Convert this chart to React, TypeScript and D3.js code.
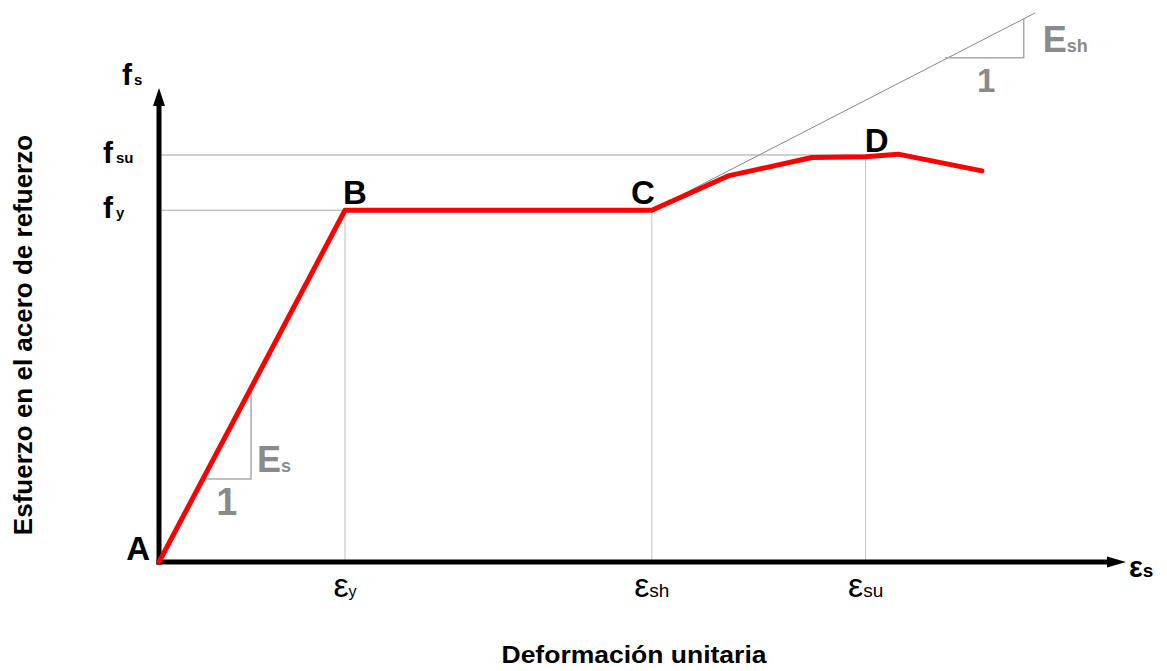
import React from 'react';
import * as d3 from 'd3';

// ---- data ----
const curveStrain = [0, 0.002, 0.0053, 0.00612, 0.00702, 0.0076, 0.00795, 0.00885];
const curveStress = [0, 420, 420, 461, 483, 484, 487, 467];
const pointNames = ['A', 'B', 'C', 'D'];
const pointIndex = [0, 1, 2, 5];
const xTickValues = [0.002, 0.0053, 0.0076];
const xTickSubs = ['y', 'sh', 'su'];
const yTickValues = [420, 486];
const yTickSubs = ['y', 'su'];
const tangentStrain = [0.0053, 0.00942];
const tangentStress = [420, 655.5];
const esTriStrain = [0.00047, 0.00099];
const esTriStress = 99;
const eshTriStrain = [0.00845, 0.0093];
const eshTriStress = 602;
const xTitle = 'Deformación unitaria';
const yTitle = 'Esfuerzo en el acero de refuerzo';

const W = 1167;
const H = 671;

export default function App() {
  const x = d3.scaleLinear().domain([0, 0.0104]).range([159, 1126]);
  const y = d3.scaleLinear().domain([0, 566]).range([562, 88]);
  const pts: [number, number][] = curveStrain.map((s, i) => [s, curveStress[i]]);
  const line = d3
    .line<[number, number]>()
    .x((d) => x(d[0]))
    .y((d) => y(d[1]));

  const x0 = x(0);
  const y0 = y(0);
  const gray = '#aaaaaa';
  const labelGray = '#8a8a8a';
  const font = 'Liberation Sans, Arial, sans-serif';

  // Es triangle
  const esSlope = curveStress[1] / curveStrain[1];
  const esTop = esSlope * esTriStrain[1];
  // Esh triangle
  const tSlope = (tangentStress[1] - tangentStress[0]) / (tangentStrain[1] - tangentStrain[0]);
  const eshTop = tangentStress[0] + tSlope * (eshTriStrain[1] - tangentStrain[0]);

  const dIdx = pointIndex[3];
  const labelOffsets = [
    { dx: -9, dy: -2, anchor: 'end' },
    { dx: -2, dy: -6, anchor: 'start' },
    { dx: 3, dy: -6, anchor: 'end' },
    { dx: -1, dy: -5, anchor: 'start' },
  ];

  return (
    <svg width={W} height={H} style={{ position: 'absolute', left: 0, top: 0, background: '#fff' }} fontFamily={font}>
      {/* reference lines */}
      <line x1={x0} x2={x(curveStrain[1])} y1={y(yTickValues[0])} y2={y(yTickValues[0])} stroke={gray} strokeWidth={1} />
      <line x1={x0} x2={x(curveStrain[dIdx])} y1={y(yTickValues[1])} y2={y(yTickValues[1])} stroke="#a0a0a0" strokeWidth={1} />
      {xTickValues.map((v, i) => (
        <line
          key={'v' + i}
          x1={x(v)}
          x2={x(v)}
          y1={i === 2 ? y(yTickValues[1]) : y(yTickValues[0])}
          y2={y0}
          stroke="#c0c0c0"
          strokeWidth={1}
        />
      ))}
      {/* tangent line */}
      <line
        x1={x(tangentStrain[0])}
        y1={y(tangentStress[0])}
        x2={x(tangentStrain[1])}
        y2={y(tangentStress[1])}
        stroke="#888"
        strokeWidth={1}
      />
      {/* Esh triangle */}
      <polyline
        points={`${x(eshTriStrain[0])},${y(eshTriStress)} ${x(eshTriStrain[1])},${y(eshTriStress)} ${x(eshTriStrain[1])},${y(eshTop)}`}
        fill="none"
        stroke={gray}
        strokeWidth={1.5}
      />
      {/* Es triangle */}
      <polyline
        points={`${x(esTriStrain[0])},${y(esTriStress)} ${x(esTriStrain[1])},${y(esTriStress)} ${x(esTriStrain[1])},${y(esTop)}`}
        fill="none"
        stroke={gray}
        strokeWidth={1.5}
      />

      {/* axes */}
      <line x1={x0} y1={y0 + 2.5} x2={x0} y2={100} stroke="#000" strokeWidth={5} />
      <path d={`M${x0},88 L${x0 - 6},106 L${x0 + 6},106 Z`} fill="#000" />
      <line x1={x0 - 2.5} y1={y0} x2={1110} y2={y0} stroke="#000" strokeWidth={5} />
      <path d={`M1126,${y0} L1107,${y0 - 5.5} L1107,${y0 + 5.5} Z`} fill="#000" />

      {/* curve */}
      <path d={line(pts) || ''} fill="none" stroke="#ff0000" strokeWidth={5} strokeLinejoin="round" strokeLinecap="round" />

      {/* point labels */}
      {pointNames.map((n, i) => {
        const p = pts[pointIndex[i]];
        const o = labelOffsets[i];
        return (
          <text
            key={n}
            x={x(p[0]) + o.dx}
            y={y(p[1]) + o.dy}
            textAnchor={o.anchor}
            fontSize={33}
            fontWeight="bold"
            fill="#000"
          >
            {n}
          </text>
        );
      })}

      {/* y tick labels */}
      <text x={122} y={85} fontWeight="bold" fill="#000">
        <tspan fontSize={30}>f</tspan>
        <tspan fontSize={15} dx={2}>s</tspan>
      </text>
      {yTickValues.map((v, i) => (
        <text key={'yl' + i} x={103} y={y(v) + 8} fontWeight="bold" fill="#000">
          <tspan fontSize={30}>f</tspan>
          <tspan fontSize={15} dx={3}>{yTickSubs[i]}</tspan>
        </text>
      ))}

      {/* x tick labels */}
      {xTickValues.map((v, i) => (
        <text key={'xl' + i} x={x(v)} y={597} textAnchor="middle" fill="#000">
          <tspan fontSize={34}>ε</tspan>
          <tspan fontSize={i === 0 ? 16 : 19}>{xTickSubs[i]}</tspan>
        </text>
      ))}
      <text x={1129} y={577} fill="#000" fontWeight="bold">
        <tspan fontSize={29}>ε</tspan>
        <tspan fontSize={19}>s</tspan>
      </text>

      {/* slope labels */}
      <text x={x(esTriStrain[1]) + 6} y={472} fill={labelGray} fontWeight="bold">
        <tspan fontSize={36}>E</tspan>
        <tspan fontSize={18}>s</tspan>
      </text>
      <text x={(x(esTriStrain[0]) + x(esTriStrain[1])) / 2} y={515} textAnchor="middle" fill={labelGray} fontWeight="bold" fontSize={38}>
        1
      </text>
      <text x={x(eshTriStrain[1]) + 19} y={52} fill={labelGray} fontWeight="bold">
        <tspan fontSize={36} textLength={19}>E</tspan>
        <tspan fontSize={18}>sh</tspan>
      </text>
      <text x={(x(eshTriStrain[0]) + x(eshTriStrain[1])) / 2 + 2} y={92} textAnchor="middle" fill={labelGray} fontWeight="bold" fontSize={33}>
        1
      </text>

      {/* titles */}
      <text x={634} y={663} textAnchor="middle" fontWeight="bold" fontSize={23} textLength={265} lengthAdjust="spacingAndGlyphs" fill="#000">
        {xTitle}
      </text>
      <text
        transform={`translate(32,335) rotate(-90)`}
        textAnchor="middle"
        fontWeight="bold"
        fontSize={26}
        fill="#000"
      >
        {yTitle}
      </text>
    </svg>
  );
}
